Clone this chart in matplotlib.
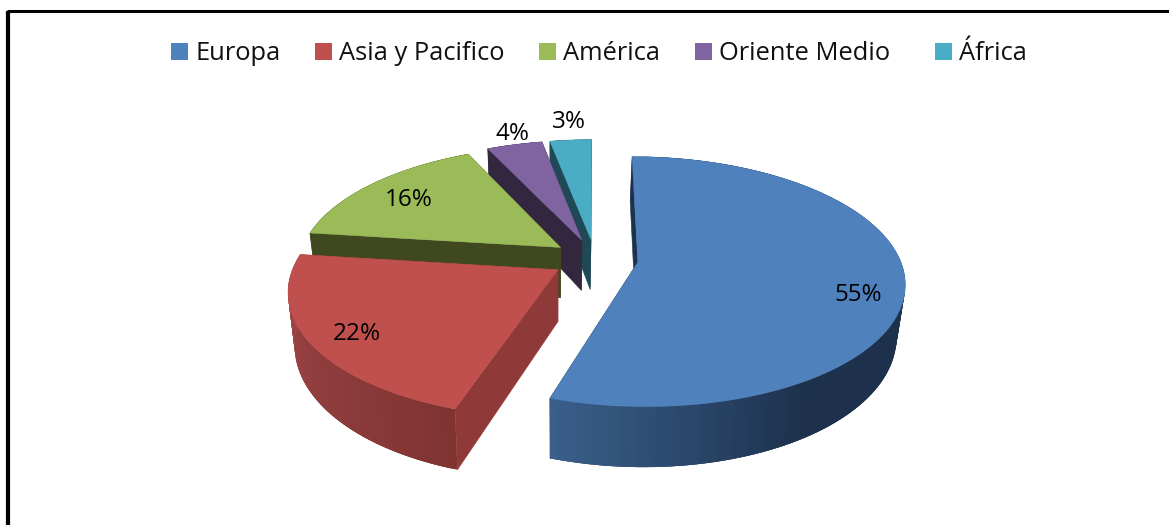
import matplotlib
matplotlib.use('Agg')
import matplotlib.pyplot as plt
from matplotlib.patches import Polygon, Rectangle
from matplotlib.colors import to_rgb
import numpy as np

regions = ['Europa', 'Asia y Pacifico', 'América', 'Oriente Medio', 'África']
shares = [55, 22, 16, 4, 3]
share_labels = ['55%', '22%', '16%', '4%', '3%']

top_colors = ['#4f81bd', '#c0504d', '#9bbb59', '#8064a2', '#4bacc6']
wall_colors = ['#1c3350', '#8f3a38', '#40481f', '#32273f', '#1f4a55']
# rim shading, first at the start of the slice, second at its end
rim_start = ['#1d314c', '#7f3432', '#40481f', '#32273f', '#1f4a55']
rim_end = ['#3a5f8a', '#a5484a', '#40481f', '#32273f', '#1f4a55']

label_xy = [(858, 295), (357, 334), (409, 200), (512, 134), (569, 122)]
legend_x = [171, 315, 539, 695, 935]

# fake 3d projection, in pixels
cx, cy = 595, 259
W, H = 262, 121
k = 0.155
explode = 0.165
depth = 51
# the bottom face is a bit narrower than the top one
bot_x0, bot_scale = 555, 0.975

plt.rcParams['font.family'] = ['Open Sans', 'DejaVu Sans']


def project(u, v, down=0):
    s = 1 + k*v
    x = cx + W*u/s
    y = cy - H*v/s + down*depth/s
    if down:
        x = bot_x0 + (x - bot_x0)*bot_scale
    return x, y


def slice_points(t0, t1, down=0):
    mid = (t0 + t1)/2
    du, dv = explode*np.sin(mid), explode*np.cos(mid)
    t = np.linspace(t0, t1, 120)
    rx, ry = project(du + np.sin(t), dv + np.cos(t), down)
    ax_, ay_ = project(du, dv, down)
    return np.column_stack([rx, ry]), (ax_, ay_)


fig = plt.figure(figsize=(11.69, 5.25), dpi=100)
ax = fig.add_axes([0, 0, 1, 1])
ax.set_xlim(0, 1169)
ax.set_ylim(525, 0)
ax.axis('off')

# border, only top and left are inside the crop
ax.plot([8, 8], [525, 10.5], color='k', lw=3, solid_capstyle='butt')
ax.plot([6.5, 1169], [10.5, 10.5], color='k', lw=2.2, solid_capstyle='butt')

edges = np.radians(np.cumsum([0] + shares)*3.6)

# back slices first so the front ones cover them
for i in range(len(shares) - 1, -1, -1):
    top, apex = slice_points(edges[i], edges[i + 1])
    bot, apex_b = slice_points(edges[i], edges[i + 1], down=1)

    for rim_i in (0, -1):
        quad = [apex, top[rim_i], bot[rim_i], apex_b]
        ax.add_patch(Polygon(quad, fc=wall_colors[i], ec=wall_colors[i], lw=0.4))

    c0 = np.array(to_rgb(rim_start[i]))
    c1 = np.array(to_rgb(rim_end[i]))
    n = len(top)
    for j in range(n - 1):
        # blue stays dark for most of its rim
        f = j/(n - 2)
        if i == 0:
            f = max(0, (f - 0.75)/0.25)
        col = c0 + (c1 - c0)*f
        # overlap the next quads, the seams show otherwise
        j2 = min(j + 3, n - 1)
        quad = [top[j], top[j2], bot[j2], bot[j]]
        ax.add_patch(Polygon(quad, fc=col, ec='none', lw=0))

    face = np.vstack([[apex], top])
    ax.add_patch(Polygon(face, fc=top_colors[i], ec=top_colors[i], lw=0.3))

for i in range(len(shares)):
    ax.text(label_xy[i][0], label_xy[i][1], share_labels[i], fontsize=17.5,
            ha='center', va='center', color='k')
    ax.add_patch(Rectangle((legend_x[i], 43), 17, 17, fc=top_colors[i], ec='none'))
    ax.text(legend_x[i] + 24, 53, regions[i], fontsize=18.4, ha='left',
            va='center', color='#111111')

plt.savefig('out.png', dpi=100)
